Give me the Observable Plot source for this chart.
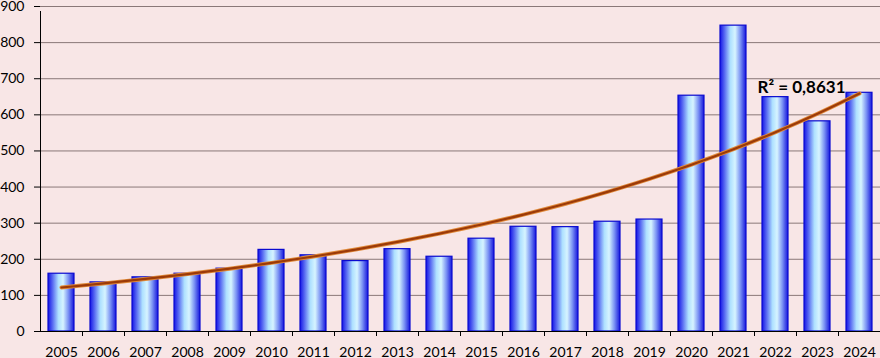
<!DOCTYPE html>
<html>
<head>
<meta charset="utf-8">
<script src="https://cdn.jsdelivr.net/npm/d3@7"></script>
<script src="https://cdn.jsdelivr.net/npm/@observablehq/plot@0.6"></script>
<style>
  html, body { margin: 0; padding: 0; background: #f8e6e6; }
  #chart svg { display: block; }
</style>
</head>
<body>
<div id="chart"></div>
<script>
const years = ["2005","2006","2007","2008","2009","2010","2011","2012","2013","2014","2015","2016","2017","2018","2019","2020","2021","2022","2023","2024"];
const values = [160,136,150,160,174,226,211,195,228,207,257,290,289,304,310,653,847,649,582,661];
const yTicks = [0,100,200,300,400,500,600,700,800,900];
const r2Label = "R² = 0,8631";

const data = years.map((y, i) => ({year: y, value: values[i]}));

// Exponential trend line (least squares on log values), as in a spreadsheet trendline
const n = values.length;
const xs = values.map((_, i) => i);
const ls = values.map(v => Math.log(v));
const mx = d3.mean(xs), ml = d3.mean(ls);
const slope = d3.sum(xs, (x, i) => (x - mx) * (ls[i] - ml)) / d3.sum(xs, x => (x - mx) ** 2);
const icpt = ml - slope * mx;
const trend = years.map((y, i) => ({year: y, value: Math.exp(icpt + slope * i)}));

const plot = Plot.plot({
  width: 880,
  height: 358,
  marginLeft: 40,
  marginRight: 0,
  marginTop: 6,
  marginBottom: 27,
  style: {fontFamily: "Lato, 'Open Sans', sans-serif", fontSize: "14px", background: "#f8e6e6", color: "#000"},
  x: {domain: years, paddingInner: 0.38, paddingOuter: 0.19, label: null},
  y: {domain: [0, 900], label: null},
  marks: [
    Plot.gridY(yTicks, {stroke: "#8a7878", strokeOpacity: 1}),
    Plot.barY(data, {x: "year", y: "value", fill: "url(#barGrad)", stroke: "#0a0ad0", strokeWidth: 1.2}),
    Plot.line(trend, {x: "year", y: "value", stroke: "#e08a3a", strokeWidth: 4, curve: "catmull-rom"}),
    Plot.line(trend, {x: "year", y: "value", stroke: "#9c3a08", strokeWidth: 2.2, curve: "catmull-rom"}),
    Plot.ruleY([0], {stroke: "#000"}),
    Plot.ruleX([years[0]], {y1: 0, y2: 900, dx: -21, insetBottom: -5, stroke: "#000"}),
    Plot.ruleX(years.slice(1), {y1: 0, y2: 0, dx: -21, insetBottom: -5, stroke: "#000"}),
    Plot.axisY(yTicks, {tickSize: 6, tickPadding: 10, stroke: "#000", fontSize: 14}),
    Plot.axisX({tickSize: 0, tickPadding: 16, fontSize: 14}),
    Plot.text([r2Label], {x: () => "2023", y: () => 676, dx: -60, text: d => d, textAnchor: "start", fontWeight: "bold", fontSize: 17, fill: "#000"})
  ]
});

// gradient definition for the bars
const defs = d3.select(plot).insert("defs", ":first-child");
const g = defs.append("linearGradient").attr("id", "barGrad").attr("x1", "0").attr("x2", "1").attr("y1", "0").attr("y2", "0");
[["0%", "#1414e6"], ["18%", "#5a6cf2"], ["40%", "#aee0ff"], ["58%", "#d6f4ff"], ["78%", "#7c94f4"], ["100%", "#1616dc"]]
  .forEach(([o, c]) => g.append("stop").attr("offset", o).attr("stop-color", c));

document.getElementById("chart").appendChild(plot);
</script>
</body>
</html>
